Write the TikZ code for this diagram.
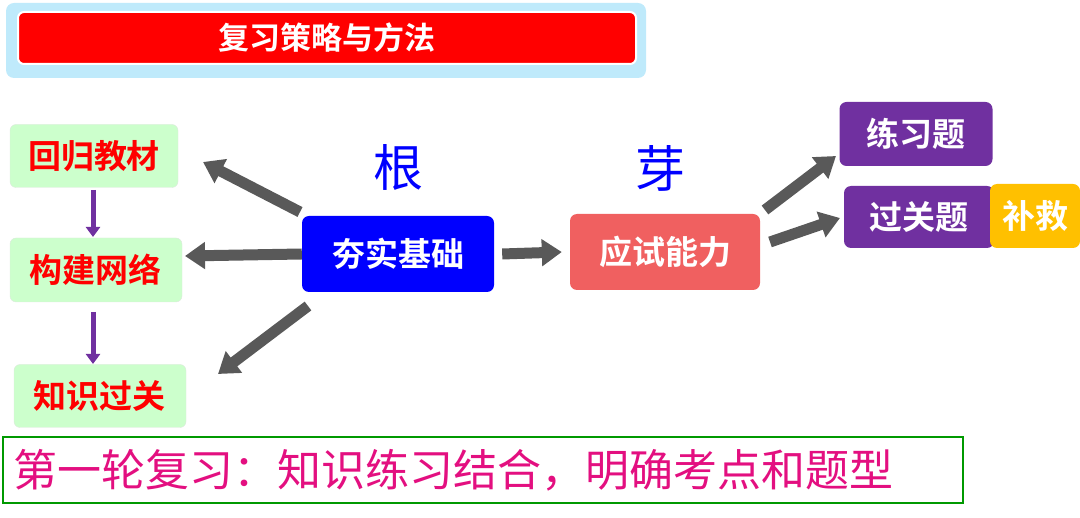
\documentclass[tikz,border=0pt]{standalone}
\usepackage{fontspec}
\newfontfamily\cjk{Noto Sans CJK SC}
\newfontfamily\cjkb{Noto Sans CJK SC Bold}
\usetikzlibrary{arrows.meta}
\definecolor{gbox}{HTML}{CCFFCC}
\definecolor{purp}{HTML}{7030A0}
\definecolor{salmon}{HTML}{F06060}
\definecolor{gold}{HTML}{FFC000}
\definecolor{garrow}{HTML}{595959}
\begin{document}
\begin{tikzpicture}[x=1pt,y=-1pt,
  lbox/.style={draw=gbox!70!black!30,fill=gbox,rounded corners=6pt,text=red,font=\cjkb\fontsize{33}{33}\selectfont,inner sep=0pt},
  cbox/.style={rounded corners=7pt,text=white,font=\cjkb\fontsize{33}{33}\selectfont,inner sep=0pt},
  garr/.style={draw=garrow,line width=11pt,-{Triangle[width=26pt,length=20pt]}},
  parr/.style={draw=purp,line width=5pt,-{Triangle[width=14pt,length=10pt]}}]
\useasboundingbox (0,0) rectangle (1080,518);
\fill[cyan!25,rounded corners=8pt] (6,3) rectangle (646,78);
\node[fill=red,draw=white,line width=2pt,rounded corners=6pt,minimum width=618pt,minimum height=52pt,text=white,font=\cjkb\fontsize{31}{31}\selectfont] (title) at (327,38) {复习策略与方法};
\node[lbox,minimum width=168pt,minimum height=63pt] (a) at (94,156) {回归教材};
\node[lbox,minimum width=172pt,minimum height=64pt] (b) at (96,270) {构建网络};
\node[lbox,minimum width=172pt,minimum height=63pt] (c) at (100,396) {知识过关};
\coordinate (p1) at (93,190);
\coordinate (p2) at (93,312);
\draw[parr] (p1) -- (93,237);
\draw[parr] (p2) -- (93,364);
\node[text=blue,font=\cjk\fontsize{50}{50}\selectfont] (gen) at (398,168) {根};
\node[text=blue,font=\cjk\fontsize{50}{50}\selectfont] (ya) at (660,168) {芽};
\node[cbox,fill=blue,minimum width=192pt,minimum height=76pt] (hs) at (398,254) {夯实基础};
\node[cbox,fill=salmon,minimum width=190pt,minimum height=76pt] (ys) at (665,252) {应试能力};
\node[cbox,fill=purp,minimum width=153pt,minimum height=64pt] (lx) at (916,134) {练习题};
\node[cbox,fill=purp,minimum width=150pt,minimum height=62pt] (gg) at (919,217) {过关题};
\node[cbox,fill=gold,minimum width=90pt,minimum height=64pt] (bj) at (1035,216) {补救};
\coordinate (h1) at (300,212);
\coordinate (h3) at (308,306);
\draw[garr] (h1) -- (203,162);
\draw[garr] (hs.west) -- (185,256);
\draw[garr] (h3) -- (218,374);
\draw[garr] ([xshift=8pt]hs.east) -- ([xshift=-8pt]ys.west);
\coordinate (y1) at (765,210);
\coordinate (y2) at (770,242);
\draw[garr] (y1) -- (836,156);
\draw[garr] (y2) -- (840,218);
\node[draw=green!60!black,line width=2pt,minimum width=960pt,minimum height=66pt,inner sep=0pt] (bot) at (483,470) {};
\node[anchor=west,text=magenta!80!purple,font=\cjk\fontsize{44}{44}\selectfont] (bt) at (10,470) {第一轮复习：知识练习结合，明确考点和题型};
\end{tikzpicture}
\end{document}
